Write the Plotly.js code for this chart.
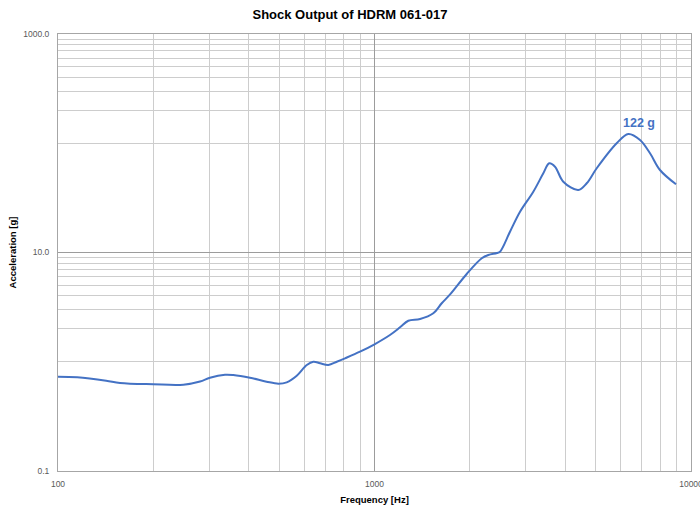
<!DOCTYPE html>
<html>
<head>
<meta charset="utf-8">
<script src="https://cdn.plot.ly/plotly-3.0.1.min.js"></script>
<style>html,body{margin:0;padding:0;background:#fff;}#chart{width:700px;height:508px;}</style>
</head>
<body>
<div id="chart"></div>
<script>
// Frequency [Hz]
var freq = [100, 115, 142, 157, 200, 249, 281, 302, 337, 358, 404, 456, 497, 528, 568, 611, 641, 673, 715, 760, 807, 900, 1000, 1119, 1204, 1279, 1393, 1534, 1631, 1733, 1956, 2182, 2289, 2438, 2492, 2680, 2883, 3175, 3415, 3567, 3718, 3950, 4406, 4683, 5036, 5823, 6338, 6902, 7422, 7980, 8967];
// Acceleration [g]
var accel = [0.730, 0.721, 0.671, 0.639, 0.622, 0.617, 0.659, 0.714, 0.761, 0.756, 0.714, 0.657, 0.630, 0.648, 0.745, 0.934, 1.00, 0.968, 0.934, 1.00, 1.075, 1.236, 1.445, 1.758, 2.066, 2.375, 2.461, 2.777, 3.43, 4.13, 6.36, 8.85, 9.49, 9.89, 10.17, 15.5, 23.6, 36.0, 53.1, 65.5, 61.0, 44.5, 37.3, 43.0, 59.0, 99.9, 121.6, 107, 80.9, 56.9, 42.1];

var xMajor = [100, 1000, 10000];
var xMajorText = ['100', '1000', '10000'];
var xMinor = [200, 300, 400, 500, 600, 700, 800, 900, 2000, 3000, 4000, 5000, 6000, 7000, 8000, 9000];
var yMajor = [0.1, 10, 1000];
var yMajorText = ['0.1', '10.0', '1000.0'];
var yMinor = [1, 2, 3, 4, 5, 6, 7, 8, 9, 100, 200, 300, 400, 500, 600, 700, 800, 900];
var peakLabel = '122 g';

var peakIdx = accel.indexOf(Math.max.apply(null, accel));

var tickFont = {family: 'Liberation Sans, Arial, sans-serif', size: 8.5, color: '#595959'};
var titleFont = {family: 'Liberation Sans, Arial, sans-serif', size: 9.5, color: '#000'};

var trace = {
  x: freq, y: accel, type: 'scatter', mode: 'lines',
  line: {color: '#4472C4', width: 2, shape: 'spline', smoothing: 1},
  hoverinfo: 'x+y'
};

var layout = {
  width: 700, height: 508,
  margin: {l: 58, r: 9, t: 34, b: 37},
  paper_bgcolor: '#fff', plot_bgcolor: '#fff',
  showlegend: false,
  title: {
    text: '<b>Shock Output of HDRM 061-017</b>',
    font: {family: 'Liberation Sans, Arial, sans-serif', size: 13, color: '#000'},
    x: 0.5, xanchor: 'center', y: 1 - 14 / 508, yanchor: 'middle', yref: 'container'
  },
  xaxis: {
    type: 'log', range: [2, 4], autorange: false,
    tickmode: 'array', tickvals: xMajor, ticktext: xMajorText,
    ticks: '', tickfont: tickFont, ticklabelstandoff: 5, ticklabeloverflow: 'allow',
    showgrid: true, gridcolor: '#9c9c9c', gridwidth: 1.3,
    minor: {tickmode: 'array', tickvals: xMinor, showgrid: true, gridcolor: '#cdcdcd', gridwidth: 1, ticks: ''},
    showline: true, linecolor: '#a6a6a6', linewidth: 1, mirror: true,
    zeroline: false,
    title: {text: '<b>Frequency [Hz]</b>', font: titleFont, standoff: 8},
    automargin: false
  },
  yaxis: {
    type: 'log', range: [-1, 3], autorange: false,
    tickmode: 'array', tickvals: yMajor, ticktext: yMajorText,
    ticks: '', tickfont: tickFont, ticklabelstandoff: 6,
    showgrid: true, gridcolor: '#9c9c9c', gridwidth: 1.3,
    minor: {tickmode: 'array', tickvals: yMinor, showgrid: true, gridcolor: '#cdcdcd', gridwidth: 1, ticks: ''},
    showline: true, linecolor: '#a6a6a6', linewidth: 1, mirror: true,
    zeroline: false,
    title: {text: '<b>Acceleration [g]</b>', font: titleFont, standoff: 4},
    automargin: false
  },
  annotations: [{
    x: Math.log10(freq[peakIdx]), y: Math.log10(accel[peakIdx]),
    xref: 'x', yref: 'y',
    text: '<b>' + peakLabel + '</b>', showarrow: false,
    font: {family: 'Liberation Sans, Arial, sans-serif', size: 12.5, color: '#4472C4'},
    xanchor: 'center', yanchor: 'bottom', xshift: 11, yshift: 2
  }]
};

Plotly.newPlot('chart', [trace], layout, {displayModeBar: false, staticPlot: true});
</script>
</body>
</html>
